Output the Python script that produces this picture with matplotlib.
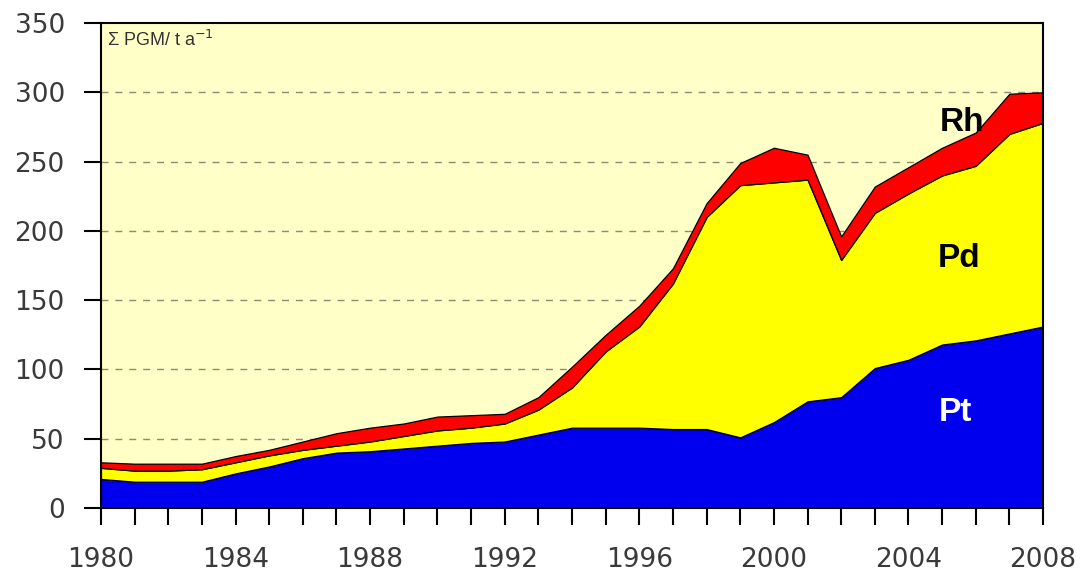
import matplotlib.pyplot as plt

years = list(range(1980, 2009))
pt = [21, 19, 19, 19, 25, 30, 36, 40, 41, 43, 45, 47, 48, 53, 58, 58, 58, 57, 57, 51,
      62, 77, 80, 101, 107, 118, 121, 126, 131]
pd_ = [8, 8, 8, 9, 8, 8, 6, 5, 7, 9, 11, 11, 13, 18, 29, 55, 73, 105, 153, 182,
       173, 160, 99, 112, 120, 122, 126, 144, 147]
rh = [4, 5, 5, 4, 4.5, 4, 6, 9, 10, 9, 10, 9, 7, 9, 15, 12, 15, 11, 10, 16,
      25, 18, 17, 19, 19, 20, 24, 29, 22]
y_ticks = [0, 50, 100, 150, 200, 250, 300, 350]
x_labels = [1980, 1984, 1988, 1992, 1996, 2000, 2004, 2008]

plt.rcParams['font.family'] = ['Liberation Sans', 'DejaVu Sans']

fig = plt.figure(figsize=(10.82, 5.76), dpi=100, facecolor='white')
ax = fig.add_axes([0.0933, 0.118, 0.8707, 0.842])
ax.set_facecolor('#ffffc8')

for g in y_ticks[1:-1]:
    ax.axhline(g, color='#8c8c6e', linestyle=(0, (5, 5)), linewidth=1, zorder=1)

ax.stackplot(years, pt, pd_, rh, colors=['#0000ee', '#ffff00', '#ff0000'],
             edgecolor='black', linewidth=0.9, zorder=2)

ax.set_xlim(1980, 2008)
ax.set_ylim(0, 350)
ax.set_yticks(y_ticks)
ax.set_xticks(x_labels)
ax.set_xticks(years, minor=True)
ax.tick_params(axis='both', which='both', direction='out', length=12, width=1.5)
ax.tick_params(axis='y', pad=14)
ax.tick_params(axis='x', pad=16)
for lbl in ax.get_xticklabels() + ax.get_yticklabels():
    lbl.set_family('DejaVu Sans')
    lbl.set_fontsize(19)
    lbl.set_color('#3a3a3a')
for s in ax.spines.values():
    s.set_linewidth(1.5)
    s.set_zorder(3)

ax.text(0.006, 0.985, 'Σ PGM/ t a$^{-1}$', transform=ax.transAxes, fontsize=13,
        color='#333333', va='top', ha='left')
ax.text(2005.6, 278, 'Rh', fontsize=24, fontweight='bold', color='black', ha='center', va='center')
ax.text(2005.5, 180, 'Pd', fontsize=24, fontweight='bold', color='black', ha='center', va='center')
ax.text(2005.4, 69, 'Pt', fontsize=24, fontweight='bold', color='white', ha='center', va='center')

plt.savefig('out.png', dpi=100, facecolor='white')
